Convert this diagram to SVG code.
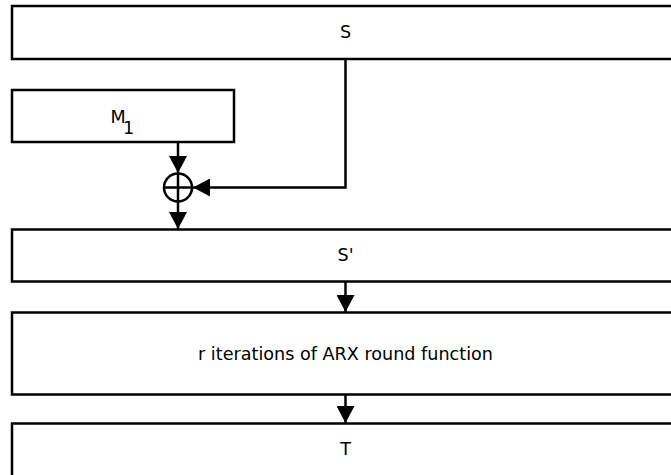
<svg xmlns="http://www.w3.org/2000/svg" width="671" height="475" viewBox="0 0 671 475">
  <style>
    .box { fill: #ffffff; stroke: #000000; stroke-width: 2.5; }
    .lbl { font-family: "DejaVu Sans", sans-serif; font-size: 17.6px; fill: #000000; text-anchor: middle; }
    .wire { fill: none; stroke: #000000; stroke-width: 2.5; }
  </style>
  <defs>
    <marker id="ah" markerUnits="userSpaceOnUse" markerWidth="17" markerHeight="18" refX="17" refY="9" orient="auto" viewBox="0 0 17 18">
      <path d="M0,0 L17,9 L0,18 Z" fill="#000000"/>
    </marker>
  </defs>
  <rect width="671" height="475" fill="#ffffff"/>
  <g id="node-S">
    <rect class="box" x="12" y="6" width="700" height="53"/>
    <text class="lbl" x="345.5" y="38">S</text>
  </g>
  <g id="node-M1">
    <rect class="box" x="12" y="90" width="222" height="52"/>
    <text class="lbl" x="118" y="122.5">M</text>
    <text class="lbl" x="128.5" y="134.3">1</text>
  </g>
  <g id="node-xor">
    <circle cx="178" cy="187.5" r="14" fill="#ffffff" stroke="#000000" stroke-width="2.5"/>
    <line x1="164" y1="187.5" x2="192" y2="187.5" stroke="#000000" stroke-width="2.5"/>
    <line x1="178" y1="173.5" x2="178" y2="201.5" stroke="#000000" stroke-width="2.5"/>
  </g>
  <g id="node-Sp">
    <rect class="box" x="12" y="229.5" width="700" height="52"/>
    <text class="lbl" x="345.5" y="261">S'</text>
  </g>
  <g id="node-ARX">
    <rect class="box" x="12" y="312.5" width="700" height="82"/>
    <text class="lbl" x="345.5" y="360">r iterations of ARX round function</text>
  </g>
  <g id="node-T">
    <rect class="box" x="12" y="423.5" width="700" height="60"/>
    <text class="lbl" x="345.5" y="455">T</text>
  </g>
  <g id="connectors">
    <line class="wire" x1="178" y1="142" x2="178" y2="173" marker-end="url(#ah)"/>
    <polyline class="wire" points="345.5,59 345.5,187.5 193,187.5" marker-end="url(#ah)"/>
    <line class="wire" x1="178" y1="201.5" x2="178" y2="229" marker-end="url(#ah)"/>
    <line class="wire" x1="345.5" y1="281.5" x2="345.5" y2="312" marker-end="url(#ah)"/>
    <line class="wire" x1="345.5" y1="394.5" x2="345.5" y2="423" marker-end="url(#ah)"/>
  </g>
</svg>
